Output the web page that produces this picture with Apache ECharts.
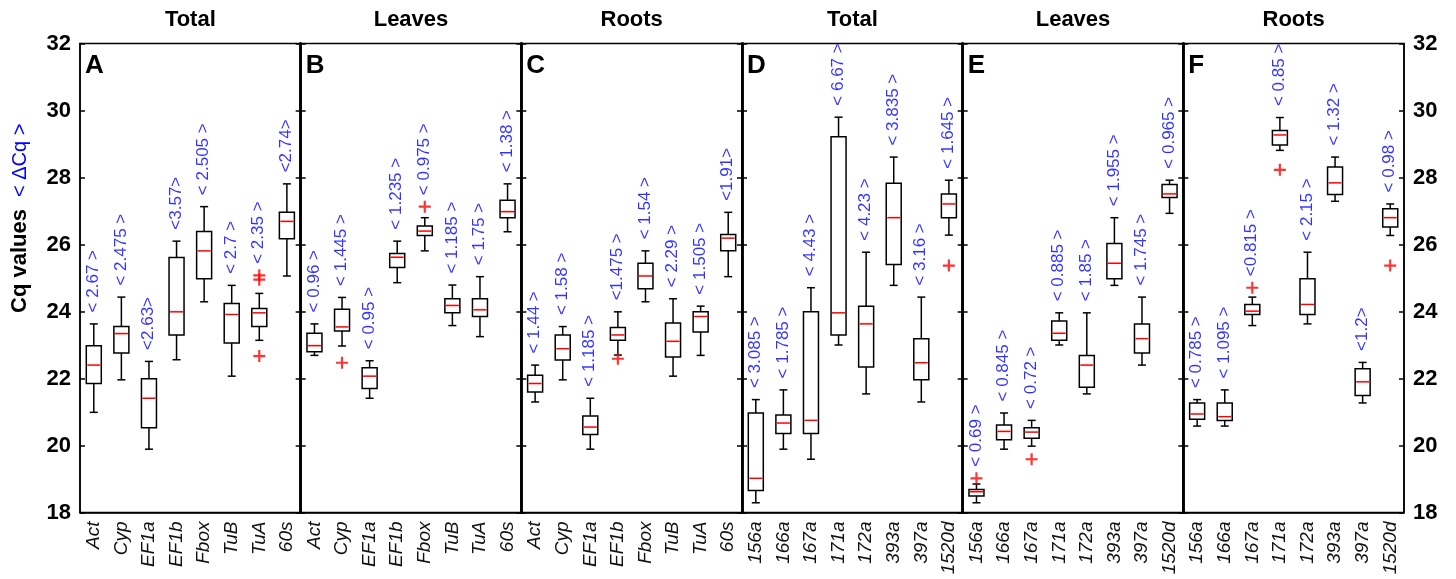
<!DOCTYPE html>
<html>
<head>
<meta charset="UTF-8">
<title>Cq values boxplots</title>
<style type="text/css">
	body { margin: 0; background: #fff; }
	#chart { width: 1456px; height: 579px; }
</style>
</head>
<body>
<div id="chart"></div>
<script type="text/javascript" src="https://cdn.jsdelivr.net/npm/echarts@6/dist/echarts.min.js"></script>
<script>
// categories
var genes = ['Act', 'Cyp', 'EF1a', 'EF1b', 'Fbox', 'TuB', 'TuA', '60s'];
var mirs = ['156a', '166a', '167a', '171a', '172a', '393a', '397a', '1520d'];

// boxes: [min, q1, median, q3, max]
var boxA = [[20.99, 21.85, 22.40, 22.98, 23.63], [21.96, 22.76, 23.34, 23.55, 24.43], [19.89, 20.53, 21.41, 21.99, 22.51], [22.56, 23.30, 23.99, 25.61, 26.10],
	[24.29, 24.98, 25.81, 26.39, 27.13], [22.07, 23.06, 23.91, 24.24, 24.78], [23.14, 23.55, 23.96, 24.09, 24.54], [25.06, 26.17, 26.69, 26.96, 27.81]];
var boxB = [[22.69, 22.80, 22.98, 23.35, 23.63], [22.97, 23.42, 23.54, 24.07, 24.42], [21.41, 21.70, 22.07, 22.32, 22.53], [24.86, 25.31, 25.62, 25.73, 26.10],
	[25.81, 26.27, 26.40, 26.55, 26.80], [23.58, 23.96, 24.18, 24.38, 24.79], [23.25, 23.85, 24.05, 24.38, 25.04], [26.38, 26.80, 26.98, 27.32, 27.81]];
var boxC = [[21.30, 21.60, 21.85, 22.10, 22.40], [21.96, 22.55, 22.89, 23.30, 23.55], [19.89, 20.33, 20.55, 20.88, 21.41], [22.70, 23.14, 23.30, 23.52, 23.99],
	[24.29, 24.68, 25.06, 25.44, 25.81], [22.07, 22.64, 23.11, 23.66, 24.38], [22.69, 23.39, 23.85, 23.99, 24.16], [25.04, 25.81, 26.19, 26.30, 26.96]];
var boxD = [[18.29, 18.66, 19.02, 20.97, 21.37], [19.89, 20.36, 20.67, 20.91, 21.66], [19.59, 20.36, 20.75, 23.99, 24.71], [23.00, 23.30, 23.96, 29.22, 29.80],
	[21.54, 22.34, 23.63, 24.16, 25.77], [24.78, 25.40, 26.80, 27.83, 28.61], [21.30, 21.96, 22.47, 23.19, 24.43], [26.28, 26.80, 27.21, 27.51, 27.92]];
var boxE = [[18.29, 18.49, 18.62, 18.69, 18.85], [19.89, 20.17, 20.42, 20.61, 20.97], [19.98, 20.22, 20.40, 20.53, 20.75], [23.00, 23.14, 23.35, 23.72, 23.96],
	[21.54, 21.74, 22.40, 22.69, 23.96], [24.78, 24.98, 25.44, 26.03, 26.80], [22.40, 22.76, 23.19, 23.63, 24.43], [26.93, 27.40, 27.51, 27.79, 27.92]];
var boxF = [[20.58, 20.78, 20.94, 21.27, 21.37], [20.58, 20.75, 20.86, 21.27, 21.66], [23.58, 23.91, 24.01, 24.21, 24.43], [28.81, 28.97, 29.27, 29.40, 29.79],
	[23.63, 23.91, 24.21, 24.98, 25.77], [27.29, 27.49, 27.84, 28.31, 28.61], [21.27, 21.49, 21.90, 22.29, 22.48], [26.27, 26.52, 26.80, 27.07, 27.21]];

// outliers: [category index, value]
var outA = [[6, 25.08], [6, 24.95], [6, 22.67]];
var outB = [[1, 22.47], [4, 27.13]];
var outC = [[3, 22.59]];
var outD = [[7, 25.37]];
var outE = [[0, 19.02], [2, 19.59]];
var outF = [[2, 24.71], [3, 28.23], [7, 25.37]];

// delta Cq labels
var dcqA = ['< 2.67 >', '< 2.475 >', '<2.63>', '<3.57>', '< 2.505 >', '< 2.7 >', '< 2.35 >', '<2.74>'];
var dcqB = ['< 0.96 >', '< 1.445 >', '< 0.95 >', '< 1.235 >', '< 0.975 >', '< 1.185 >', '< 1.75 >', '< 1.38 >'];
var dcqC = ['< 1.44 >', '< 1.58 >', '< 1.185 >', '<1.475 >', '< 1.54 >', '< 2.29 >', '< 1.505 >', '<1.91>'];
var dcqD = ['< 3.085 >', '< 1.785 >', '< 4.43 >', '< 6.67 >', '< 4.23 >', '< 3.835 >', '< 3.16 >', '< 1.645 >'];
var dcqE = ['< 0.69 >', '< 0.845 >', '< 0.72 >', '< 0.885 >', '< 1.85 >', '< 1.955 >', '< 1.745 >', '< 0.965 >'];
var dcqF = ['< 0.785 >', '< 1.095 >', '<0.815 >', '< 0.85 >', '< 2.15 >', '< 1.32 >', '<1.2>', '< 0.98 >'];

var titles = ['Total', 'Leaves', 'Roots', 'Total', 'Leaves', 'Roots'];
var letters = ['A', 'B', 'C', 'D', 'E', 'F'];
var yTicks = [18, 32, 2]; // min, max, interval

var cats = [genes, genes, genes, mirs, mirs, mirs];
var boxes = [boxA, boxB, boxC, boxD, boxE, boxF];
var outs = [outA, outB, outC, outD, outE, outF];
var dcqs = [dcqA, dcqB, dcqC, dcqD, dcqE, dcqF];

var X0 = 80, PW = 220.67, TOP = 43.5, H = 469;
var BOX_W = 15, CAP_W = 8;
var BLUE = '#0000ff';
var FONT = '"Liberation Sans", Arial, sans-serif';

var echart = echarts.init(document.getElementById('chart'));

function renderBox(params, api) {
	var c = api.value(0);
	var lo = api.coord([c, api.value(1)]);
	var q1 = api.coord([c, api.value(2)]);
	var md = api.coord([c, api.value(3)]);
	var q3 = api.coord([c, api.value(4)]);
	var hi = api.coord([c, api.value(5)]);
	var x = md[0], hb = BOX_W / 2, hc = CAP_W / 2;
	var ls = { stroke: '#000', lineWidth: 1.5 };
	return {
		type: 'group',
		children: [
			{ type: 'line', shape: { x1: x, y1: hi[1], x2: x, y2: q3[1] }, style: ls },
			{ type: 'line', shape: { x1: x, y1: q1[1], x2: x, y2: lo[1] }, style: ls },
			{ type: 'line', shape: { x1: x - hc, y1: hi[1], x2: x + hc, y2: hi[1] }, style: ls },
			{ type: 'line', shape: { x1: x - hc, y1: lo[1], x2: x + hc, y2: lo[1] }, style: ls },
			{ type: 'rect', shape: { x: x - hb, y: q3[1], width: BOX_W, height: q1[1] - q3[1] }, style: { fill: '#fff', stroke: '#000', lineWidth: 1.5 } },
			{ type: 'line', shape: { x1: x - hb + 1, y1: md[1], x2: x + hb - 1, y2: md[1] }, style: { stroke: '#ff0000', lineWidth: 1.5 } }
		]
	};
}

var grids = [], xAxes = [], yAxes = [], series = [], graphics = [];

for (var i = 0; i < 6; i++) {
	grids.push({ left: X0 + i * PW, top: TOP, width: PW, height: H, show: true, borderColor: '#000', borderWidth: 1.5 });
	xAxes.push({
		type: 'category', gridIndex: i, data: cats[i],
		axisTick: { show: false },
		axisLine: { lineStyle: { color: '#000', width: 1.5 } },
		axisLabel: { interval: 0, rotate: 90, margin: 9, fontStyle: 'italic', fontSize: 19, fontFamily: FONT, color: '#111' }
	});
	['left', 'right'].forEach(function (pos) {
		var outer = (pos == 'left' && i == 0) || (pos == 'right' && i == 5);
		yAxes.push({
			type: 'value', gridIndex: i, position: pos,
			min: yTicks[0], max: yTicks[1], interval: yTicks[2],
			splitLine: { show: false },
			axisLine: { show: true, onZero: false, lineStyle: { color: '#000', width: outer ? 1.5 : 2.5 } },
			axisTick: { show: true, inside: true, length: 5, lineStyle: { color: '#000', width: 1.5 } },
			axisLabel: { show: outer, margin: 9, fontSize: 22, fontWeight: 'bold', fontFamily: FONT, color: '#000' }
		});
	});

	var box = boxes[i], out = outs[i], dcq = dcqs[i];
	//标签位置：须线顶端或离群点之上
	var tops = box.map(function (b, k) {
		var t = b[4];
		out.forEach(function (o) { if (o[0] == k && o[1] > t) t = o[1]; });
		return [k, t];
	});

	series.push({
		type: 'custom', xAxisIndex: i, yAxisIndex: 2 * i,
		renderItem: renderBox,
		encode: { x: 0, y: [1, 2, 3, 4, 5] },
		data: box.map(function (b, k) { return [k].concat(b); }),
		z: 3
	});
	series.push({
		type: 'scatter', xAxisIndex: i, yAxisIndex: 2 * i,
		symbol: 'path://M4.1,0H5.9V10H4.1ZM0,4.1H10V5.9H0Z', symbolSize: 12,
		itemStyle: { color: '#ff0000' },
		data: out, z: 4
	});
	series.push({
		type: 'scatter', xAxisIndex: i, yAxisIndex: 2 * i,
		symbolSize: 1, itemStyle: { color: 'rgba(0,0,0,0)' }, silent: true,
		data: tops,
		label: {
			show: true, rotate: 90, position: [0, -11], align: 'left', verticalAlign: 'middle',
			fontSize: 17, fontFamily: FONT, color: BLUE,
			formatter: (function (d) { return function (p) { return d[p.dataIndex]; }; })(dcq)
		},
		z: 5
	});

	graphics.push({
		type: 'text', x: X0 + (i + 0.5) * PW, y: 20,
		style: { text: titles[i], font: 'bold 22px ' + FONT, fill: '#000', align: 'center', verticalAlign: 'middle' }
	});
	graphics.push({
		type: 'text', x: X0 + i * PW + 5, y: 53,
		style: { text: letters[i], font: 'bold 26px ' + FONT, fill: '#000', align: 'left', verticalAlign: 'top' }
	});
}

graphics.push({
	type: 'text', x: 20, y: 313, rotation: Math.PI / 2,
	style: {
		text: '{a|Cq values}{s| }{b|< ΔCq >}',
		align: 'left', verticalAlign: 'middle',
		rich: {
			a: { font: 'bold 22px ' + FONT, fill: '#000', color: '#000' },
			s: { width: 12 },
			b: { font: '20px ' + FONT, fill: BLUE, color: BLUE }
		}
	}
});

var option = {
	animation: false,
	backgroundColor: '#fff',
	grid: grids,
	xAxis: xAxes,
	yAxis: yAxes,
	series: series,
	graphic: graphics
};
echart.setOption(option);
</script>
</body>
</html>
